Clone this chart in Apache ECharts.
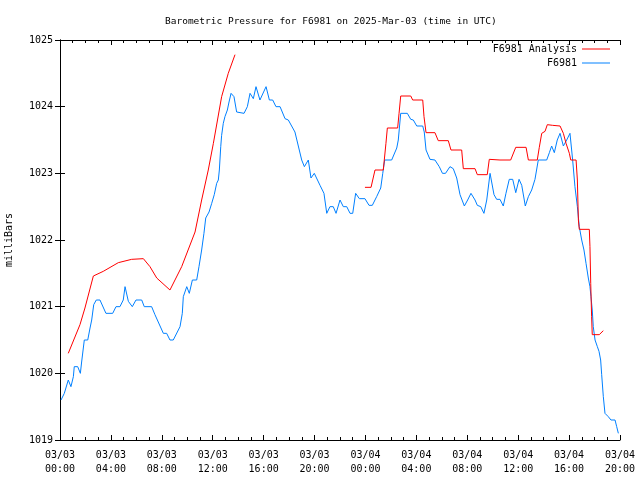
<!DOCTYPE html>
<html><head><meta charset="utf-8">
<script src="https://cdn.jsdelivr.net/npm/echarts@6/dist/echarts.min.js"></script>
<style>html,body{margin:0;padding:0;background:#fff}#c{width:640px;height:480px}</style>
</head><body><div id="c"></div>
<script>
// x values: hours since 03/03 00:00 UTC
const tickLabels = ['03/03\n00:00','03/03\n04:00','03/03\n08:00','03/03\n12:00','03/03\n16:00','03/03\n20:00',
  '03/04\n00:00','03/04\n04:00','03/04\n08:00','03/04\n12:00','03/04\n16:00','03/04\n20:00'];
const yTicks = [1019,1020,1021,1022,1023,1024,1025];

const f6981 = [
[0.08,1019.6],[0.34,1019.7],[0.65,1019.9],[0.86,1019.8],[1.05,1019.95],[1.12,1020.1],[1.39,1020.1],[1.6,1020.0],
[1.7,1020.17],[1.91,1020.5],[2.18,1020.5],[2.36,1020.68],[2.49,1020.8],[2.65,1021.03],[2.85,1021.1],[3.14,1021.1],
[3.61,1020.9],[4.14,1020.9],[4.4,1021.0],[4.71,1021.0],[4.97,1021.1],[5.11,1021.3],[5.37,1021.08],[5.68,1021.0],
[5.97,1021.1],[6.42,1021.1],[6.62,1021.0],[7.2,1021.0],[7.46,1020.88],[8.12,1020.6],[8.38,1020.6],[8.64,1020.5],
[8.9,1020.5],[9.43,1020.7],[9.61,1020.9],[9.69,1021.15],[9.96,1021.3],[10.16,1021.2],[10.4,1021.4],[10.74,1021.4],
[10.92,1021.6],[11.13,1021.85],[11.31,1022.1],[11.45,1022.33],[11.71,1022.42],[11.92,1022.55],[12.12,1022.68],
[12.31,1022.85],[12.44,1022.9],[12.52,1023.05],[12.63,1023.4],[12.7,1023.57],[12.83,1023.75],[12.96,1023.85],
[13.15,1023.95],[13.28,1024.07],[13.44,1024.2],[13.67,1024.15],[13.88,1023.92],[14.46,1023.9],[14.72,1024.0],
[14.93,1024.2],[15.19,1024.12],[15.4,1024.3],[15.71,1024.1],[16.19,1024.3],[16.45,1024.1],[16.71,1024.1],
[16.97,1024.0],[17.29,1024.0],[17.68,1023.82],[17.94,1023.8],[18.46,1023.62],[18.8,1023.35],[18.99,1023.2],
[19.2,1023.1],[19.51,1023.2],[19.72,1022.93],[19.98,1023.0],[20.43,1022.82],[20.74,1022.7],[20.96,1022.4],
[21.21,1022.5],[21.47,1022.5],[21.69,1022.4],[22.0,1022.6],[22.26,1022.5],[22.53,1022.5],[22.79,1022.4],
[23.0,1022.4],[23.23,1022.7],[23.52,1022.62],[23.96,1022.62],[24.28,1022.52],[24.54,1022.52],[24.88,1022.65],
[25.2,1022.78],[25.36,1023.0],[25.51,1023.2],[26.06,1023.2],[26.46,1023.38],[26.58,1023.5],[26.77,1023.9],
[27.29,1023.9],[27.56,1023.81],[27.76,1023.8],[28.03,1023.71],[28.5,1023.71],[28.62,1023.62],[28.76,1023.35],
[29.07,1023.21],[29.46,1023.2],[29.8,1023.1],[30.05,1023.0],[30.29,1023.0],[30.64,1023.1],[30.9,1023.07],
[31.17,1022.93],[31.43,1022.68],[31.77,1022.51],[32.03,1022.6],[32.29,1022.7],[32.61,1022.6],[32.79,1022.52],
[33.06,1022.5],[33.31,1022.4],[33.53,1022.6],[33.79,1023.0],[34.1,1022.68],[34.31,1022.61],[34.57,1022.61],
[34.83,1022.51],[35.04,1022.7],[35.3,1022.91],[35.57,1022.91],[35.81,1022.71],[36.07,1022.91],[36.28,1022.82],
[36.56,1022.51],[36.8,1022.65],[37.06,1022.75],[37.32,1022.91],[37.58,1023.2],[38.24,1023.2],[38.45,1023.31],
[38.63,1023.41],[38.84,1023.31],[39.07,1023.5],[39.29,1023.6],[39.55,1023.41],[39.81,1023.5],[40.07,1023.6],
[40.28,1023.2],[40.46,1022.8],[40.65,1022.5],[40.8,1022.2],[40.99,1022.0],[41.17,1021.85],[41.33,1021.65],
[41.51,1021.43],[41.64,1021.3],[41.72,1021.15],[41.82,1020.95],[41.9,1020.7],[42.04,1020.5],[42.22,1020.4],
[42.35,1020.33],[42.48,1020.2],[42.56,1019.98],[42.69,1019.65],[42.82,1019.4],[43.08,1019.35],[43.29,1019.3],
[43.61,1019.3],[43.74,1019.2],[43.87,1019.1]
];

const analysisPart1 = [
[0.65,1020.3],[1.57,1020.73],[1.96,1020.98],[2.62,1021.46],[3.4,1021.53],[4.58,1021.66],[5.63,1021.71],
[6.55,1021.72],[7.07,1021.6],[7.6,1021.43],[8.64,1021.25],[9.56,1021.6],[10.61,1022.12],[11.13,1022.6],
[11.65,1023.05],[12.05,1023.45],[12.7,1024.15],[13.22,1024.5],[13.75,1024.78]
];

const analysisPart2 = [
[23.96,1022.79],[24.44,1022.79],[24.57,1022.9],[24.75,1023.05],[25.4,1023.05],[25.48,1023.2],[25.61,1023.45],
[25.72,1023.68],[26.53,1023.68],[26.64,1023.9],[26.77,1024.16],[27.56,1024.16],[27.71,1024.1],[28.5,1024.1],
[28.6,1023.85],[28.76,1023.61],[29.46,1023.61],[29.72,1023.49],[30.51,1023.49],[30.72,1023.35],[31.56,1023.35],
[31.69,1023.07],[32.61,1023.07],[32.79,1022.98],[33.57,1022.98],[33.73,1023.21],[34.57,1023.2],[35.41,1023.2],
[35.81,1023.39],[36.62,1023.39],[36.8,1023.2],[37.5,1023.2],[37.66,1023.39],[37.85,1023.6],[38.11,1023.63],
[38.29,1023.73],[38.71,1023.72],[39.29,1023.71],[39.55,1023.6],[39.76,1023.45],[40.02,1023.3],[40.13,1023.2],
[40.55,1023.2],[40.65,1022.9],[40.73,1022.3],[40.8,1022.16],[41.59,1022.16],[41.64,1021.9],[41.7,1021.35],
[41.77,1020.85],[41.82,1020.58],[42.37,1020.58],[42.69,1020.64]
];

const FONT = '"DejaVu Sans Mono", monospace';
const chart = echarts.init(document.getElementById('c'), null, {renderer: 'canvas'});
const baseX = {
  type: 'value', min: 0, max: 44, interval: 4,
  axisLine: {show: true, lineStyle: {color: '#000', width: 1}},
  axisTick: {show: true, inside: true, length: 5, lineStyle: {color: '#000'}},
  minorTick: {show: true, splitNumber: 4, length: 3, lineStyle: {color: '#000'}},
  splitLine: {show: false}, minorSplitLine: {show: false}
};
const baseY = {
  type: 'value', min: 1019, max: 1025, interval: 1,
  axisLine: {show: true, lineStyle: {color: '#000', width: 1}},
  axisTick: {show: true, inside: true, length: 5, lineStyle: {color: '#000'}},
  splitLine: {show: false}
};
chart.setOption({
  animation: false,
  backgroundColor: '#fff',
  title: {
    text: 'Barometric Pressure for F6981 on 2025-Mar-03 (time in UTC)',
    left: 160, top: 12,
    textStyle: {fontFamily: FONT, fontSize: 9.5, fontWeight: 'normal', color: '#000'}
  },
  legend: {
    orient: 'vertical', right: 30, top: 42, align: 'right',
    itemWidth: 28, itemHeight: 1, itemGap: 4, icon: 'rect', padding: [2, 0, 2, 0],
    data: ['F6981 Analysis', 'F6981'],
    textStyle: {fontFamily: FONT, fontSize: 10, color: '#000'}
  },
  grid: {left: 60, right: 20, top: 40, bottom: 40, containLabel: false, outerBoundsMode: 'none'},
  xAxis: [
    Object.assign({}, baseX, {
      position: 'bottom',
      axisLabel: {
        margin: 8, fontFamily: FONT, fontSize: 10, color: '#000', lineHeight: 14,
        formatter: v => tickLabels[Math.round(v / 4)] || ''
      }
    }),
    Object.assign({}, baseX, {position: 'top', axisLabel: {show: false}})
  ],
  yAxis: [
    Object.assign({}, baseY, {
      position: 'left',
      name: 'milliBars', nameLocation: 'middle', nameRotate: 90, nameGap: 46,
      nameTextStyle: {fontFamily: FONT, fontSize: 10, color: '#000'},
      axisLabel: {margin: 7, fontFamily: FONT, fontSize: 10, color: '#000',
        formatter: v => yTicks.indexOf(v) >= 0 ? String(v) : ''}
    }),
    Object.assign({}, baseY, {position: 'right', axisLabel: {show: false}})
  ],
  series: [
    {name: 'F6981 Analysis', type: 'line', data: analysisPart1, showSymbol: false, symbol: 'none',
     lineStyle: {color: '#ff0000', width: 1}, itemStyle: {color: '#ff0000'}},
    {name: 'F6981', type: 'line', data: f6981, showSymbol: false, symbol: 'none',
     lineStyle: {color: '#0080ff', width: 1}, itemStyle: {color: '#0080ff'}},
    {name: 'F6981 Analysis', type: 'line', data: analysisPart2, showSymbol: false, symbol: 'none',
     lineStyle: {color: '#ff0000', width: 1}, itemStyle: {color: '#ff0000'}}
  ]
});
</script></body></html>
